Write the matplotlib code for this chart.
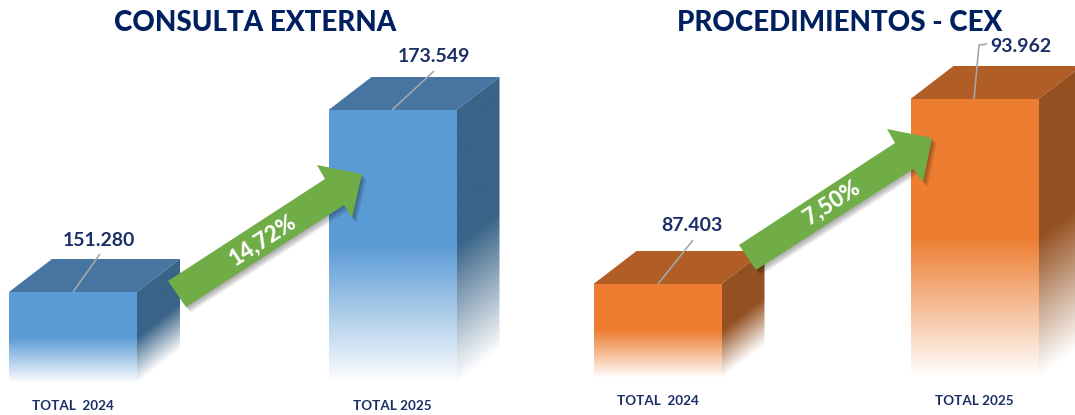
import numpy as np
import matplotlib
matplotlib.use('Agg')
import matplotlib.pyplot as plt
from matplotlib.patches import Polygon
from matplotlib.colors import to_rgb

plt.rcParams['font.family'] = ['Lato', 'DejaVu Sans']

years_left = ['TOTAL  2024', 'TOTAL 2025']
consulta = [151280, 173549]
years_right = ['TOTAL  2024', 'TOTAL 2025']
procedimientos = [87403, 93962]
growth = ['14,72%', '7,50%']
titles = ['CONSULTA EXTERNA', 'PROCEDIMIENTOS - CEX']

W, H = 1075, 415
NAVY = '#002060'
LABEL = '#1b2f66'
GREEN = '#70ad47'
LEADER = '#a6a6a6'


def fade_image(ax, poly, extent, alpha, color):
    # gradiente blanco -> color recortado al poligono
    rgba = np.zeros(alpha.shape + (4,))
    rgba[..., :3] = to_rgb(color)
    rgba[..., 3] = alpha
    im = ax.imshow(rgba, extent=extent, origin='lower', aspect='auto', zorder=2, interpolation='bilinear')
    patch = Polygon(poly, closed=True, transform=ax.transData, fc='none', ec='none')
    ax.add_patch(patch)
    im.set_clip_path(patch)


def draw_box(ax, x, val, base, width, ddx, ddy, front, top, side):
    l, r = x - width / 2, x + width / 2
    h = val - base
    solid = 0.5 * h  # parte baja con degradado
    # cara frontal
    ys = np.linspace(base, val, 300)
    a = np.clip((ys - base) / solid, 0, 1).reshape(-1, 1)
    fade_image(ax, [(l, base), (r, base), (r, val), (l, val)], (l, r, base, val), a, front)
    # cara superior
    ax.add_patch(Polygon([(l, val), (r, val), (r + ddx, val + ddy), (l + ddx, val + ddy)],
                         closed=True, fc=top, ec='none', zorder=2))
    # cara lateral: el degradado sube con la profundidad
    xs = np.linspace(r, r + ddx, 80)
    ys = np.linspace(base, val + ddy, 400)
    xx, yy = np.meshgrid(xs, ys)
    a = np.clip((yy - base - (xx - r) / ddx * ddy) / solid, 0, 1)
    fade_image(ax, [(r, base), (r + ddx, base + ddy), (r + ddx, val + ddy), (r, val)],
               (r, r + ddx, base, val + ddy), a, side)


def make_chart(px_left, px_right, c0, c1, y_base, y0, y1, vals, labels, colors):
    # eje con escala real de valores: baseline truncado como en el original
    ax = fig.add_axes([px_left / W, (H - y_base) / H, (px_right - px_left) / W, y_base / H])
    ux = c1 - c0
    uy = (y0 - y1) / (vals[1] - vals[0])  # px por unidad
    base = vals[0] - (y_base - y0) / uy
    ax.set_xlim((px_left - c0) / ux, (px_right - c0) / ux)
    ax.set_ylim(base, base + y_base / uy)
    ax.patch.set_alpha(0)
    for s in ax.spines.values():
        s.set_visible(False)
    ax.set_yticks([])
    ax.set_xticks([0, 1])
    ax.set_xticklabels(labels, fontsize=9.7, fontweight='bold', color=LABEL)
    ax.tick_params(axis='x', length=0, pad=12)
    for i, v in enumerate(vals):
        draw_box(ax, i, v, base, 128 / ux, 43 / ux, 33 / uy, *colors)
    return ax, ux, uy


fig = plt.figure(figsize=(W / 100, H / 100), dpi=100, facecolor='white')

ax1, ux1, uy1 = make_chart(0, 530, 73, 392.5, 383, 292, 110, consulta, years_left,
                           ('#5b9bd5', '#4675a1', '#3a6488'))
ax2, ux2, uy2 = make_chart(545, 1075, 657.5, 974.5, 378, 284, 99, procedimientos, years_right,
                           ('#ed7d31', '#b15e26', '#945020'))

# capa en pixeles para flechas, titulos y etiquetas
ov = fig.add_axes([0, 0, 1, 1], zorder=5)
ov.set_xlim(0, W)
ov.set_ylim(H, 0)
ov.axis('off')
ov.patch.set_alpha(0)

ov.text(255.5, 23, titles[0], ha='center', va='center', fontsize=20, fontweight='black', color=NAVY)
ov.text(839.5, 23, titles[1], ha='center', va='center', fontsize=20, fontweight='black', color=NAVY)


def fmt(v):
    return f'{v:,}'.replace(',', '.')


ov.text(99, 240, fmt(consulta[0]), ha='center', va='center', fontsize=14, fontweight='bold', color=LABEL)
ov.text(434, 57, fmt(consulta[1]), ha='center', va='center', fontsize=14, fontweight='bold', color=LABEL)
ov.text(692, 225, fmt(procedimientos[0]), ha='center', va='center', fontsize=14, fontweight='bold', color=LABEL)
ov.text(1021, 47, fmt(procedimientos[1]), ha='center', va='center', fontsize=14, fontweight='bold', color=LABEL)

for xs, ys in [([73, 100], [292, 254]), ([392, 434], [110, 71]), ([658, 693], [284, 240]),
               ([974, 979, 987], [99, 45, 44])]:
    ov.plot(xs, ys, color=LEADER, lw=1.2, solid_capstyle='butt')

arrow_left = [(168, 281), (325, 179), (317, 165), (362, 174), (352, 218), (344, 205), (186, 307)]
arrow_right = [(739, 245), (895, 143), (887, 129), (932, 138), (923, 182), (913, 169), (756, 270)]
for pts, txt, tx, ty in [(arrow_left, growth[0], 263, 240), (arrow_right, growth[1], 832, 203)]:
    p = np.array(pts, dtype=float)
    for k in range(6, 0, -1):
        ov.add_patch(Polygon(p + [k * 0.8, k * 0.9], closed=True, fc='black', ec='none', alpha=0.06))
    ov.add_patch(Polygon(p, closed=True, fc=GREEN, ec='none'))
    ov.text(tx, ty, txt, ha='center', va='center', rotation=33, rotation_mode='anchor',
            fontsize=16, fontweight='black', color='white')

fig.savefig('out.png', dpi=100)
